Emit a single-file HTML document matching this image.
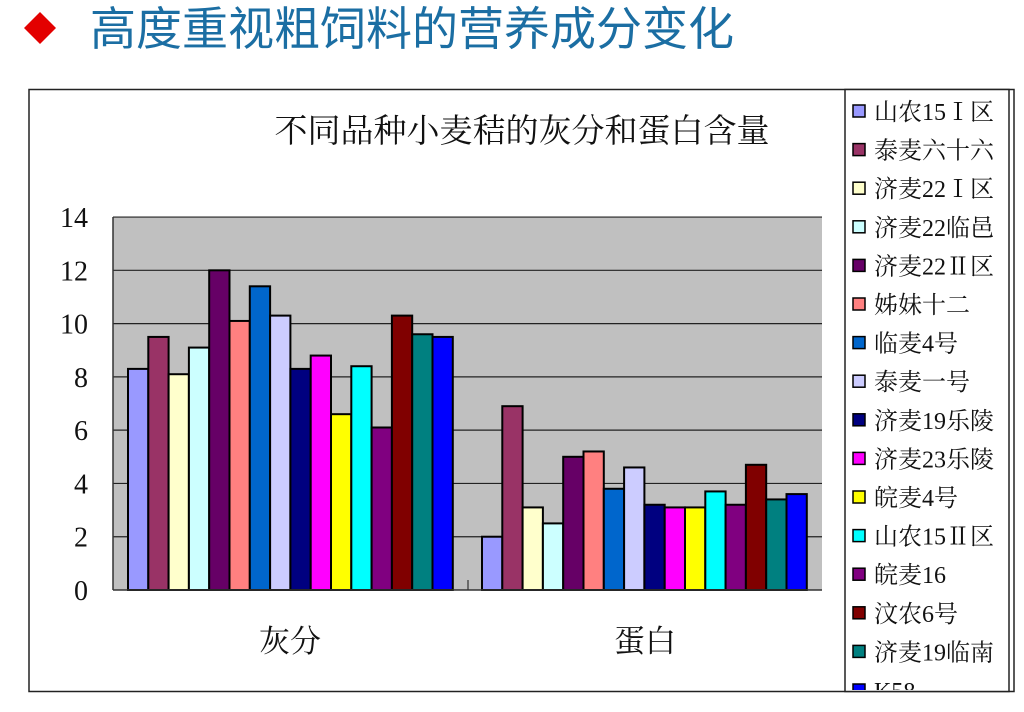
<!DOCTYPE html>
<html><head><meta charset="utf-8">
<style>
html,body{margin:0;padding:0;background:#fff;}
svg{display:block;}
text{font-family:"Liberation Serif","Noto Serif CJK SC","Noto Sans CJK SC",serif;}
</style></head>
<body>
<svg id="s" width="1024" height="712" viewBox="0 0 1024 712" xmlns="http://www.w3.org/2000/svg">
<polygon points="40,12 56,28 40,44 24,28" fill="#e30000"/>
<text x="90" y="45" font-size="46" fill="#1b6ea3" style="font-family:'Liberation Sans','Noto Sans CJK SC',sans-serif">高度重视粗饲料的营养成分变化</text>
<rect x="29" y="89.5" width="985" height="602" fill="#fff" stroke="#222" stroke-width="1.5"/>
<rect x="845" y="89.5" width="164" height="602" fill="#fff" stroke="#222" stroke-width="1.5"/>
<text x="522" y="142" font-size="33" fill="#111" text-anchor="middle">不同品种小麦秸的灰分和蛋白含量</text>
<rect x="113" y="217" width="709" height="373" fill="#c0c0c0"/>
<g id="grid" stroke="#222" stroke-width="1.2"></g>
<g id="bars" stroke="#000" stroke-width="2"></g>
<line x1="113" y1="590" x2="822" y2="590" stroke="#333" stroke-width="1.5"/>
<line x1="113" y1="217" x2="113" y2="590" stroke="#333" stroke-width="1.5"/>
<line x1="468" y1="580" x2="468" y2="590" stroke="#333" stroke-width="1.2"/>
<g id="yl" font-size="28" fill="#111" text-anchor="end"></g>
<text x="290" y="652" font-size="31" fill="#111" text-anchor="middle">灰分</text>
<text x="645" y="652" font-size="31" fill="#111" text-anchor="middle">蛋白</text>
<clipPath id="cp"><rect x="846" y="90" width="162" height="600"/></clipPath>
<g id="leg" clip-path="url(#cp)" font-size="24" fill="#111"></g>
</svg>
<script>
var NS="http://www.w3.org/2000/svg";
function el(p,t,a,txt){var e=document.createElementNS(NS,t);for(var k in a)e.setAttribute(k,a[k]);if(txt)e.textContent=txt;document.getElementById(p).appendChild(e);}
var col=["#9999ff","#993366","#ffffcc","#ccffff","#660066","#ff8080","#0066cc","#ccccff","#000080","#ff00ff","#ffff00","#00ffff","#800080","#800000","#008080","#0000ff"];
var names=["山农15Ⅰ区","泰麦六十六","济麦22Ⅰ区","济麦22临邑","济麦22Ⅱ区","姊妹十二","临麦4号","泰麦一号","济麦19乐陵","济麦23乐陵","皖麦4号","山农15Ⅱ区","皖麦16","汶农6号","济麦19临南","K58"];
var g1=[8.3,9.5,8.1,9.1,12,10.1,11.4,10.3,8.3,8.8,6.6,8.4,6.1,10.3,9.6,9.5];
var g2=[2.0,6.9,3.1,2.5,5.0,5.2,3.8,4.6,3.2,3.1,3.1,3.7,3.2,4.7,3.4,3.6];
var s=26.64;
for(var v=2;v<=14;v+=2){var y=590-v*s;el("grid","line",{x1:113,y1:y,x2:822,y2:y});}
for(var v=0;v<=14;v+=2){el("yl","text",{x:88,y:590-v*s+10},String(v));}
var w=20.3;
for(var i=0;i<16;i++){
 var h=g1[i]*s;el("bars","rect",{x:128+w*i,y:590-h,width:w,height:h,fill:col[i]});
 h=g2[i]*s;el("bars","rect",{x:482+w*i,y:590-h,width:w,height:h,fill:col[i]});
 var ly=111+38.6*i;
 el("leg","rect",{x:853,y:ly-6,width:12,height:12,fill:col[i],stroke:"#000","stroke-width":1.5});
 el("leg","text",{x:874,y:ly+9},names[i]);
}
</script>
</body></html>
